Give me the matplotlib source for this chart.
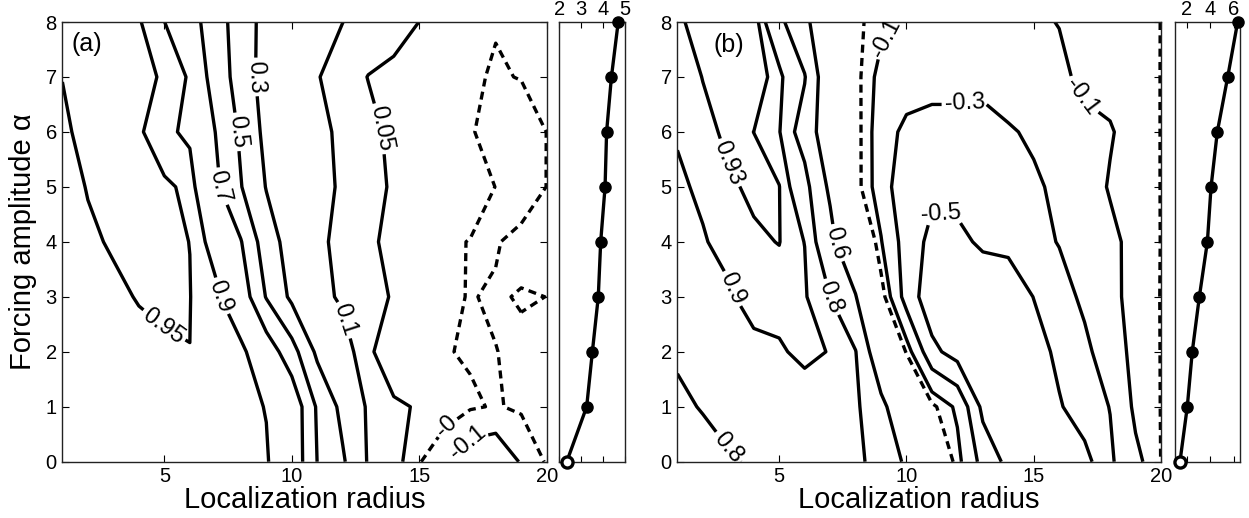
import numpy as np
import matplotlib
matplotlib.use("Agg")
import matplotlib.pyplot as plt

plt.rcParams['font.family'] = ['Liberation Sans', 'DejaVu Sans']
plt.rcParams['lines.dashed_pattern'] = [2.4, 1.6]

# ---------------- data ----------------
radius = np.arange(1, 21)          # localization radius (x grid)
alpha = np.arange(0, 9)            # forcing amplitude (y grid)

# panel (a) field, rows = alpha 0..8, cols = radius 1..20
a_row0 = [0.905, 0.908, 0.91, 0.912, 0.915, 0.918, 0.92, 0.915, 0.905, 0.85, 0.497, 0.323, 0.085, 0.075, 0.004, -0.048, -0.178, -0.2, -0.089, 0.01]
a_row1 = [0.915, 0.918, 0.92, 0.922, 0.925, 0.928, 0.925, 0.915, 0.898, 0.85, 0.475, 0.246, 0.08, 0.058, 0.0457, 0.03, 0.01, -0.0067, 0.0142, 0.02]
a_row2 = [0.92, 0.925, 0.93, 0.935, 0.946, 0.9498, 0.94, 0.922, 0.82, 0.579, 0.26, 0.13, 0.06, 0.015, 0.01, 0.004, -0.007, -0.001, 0.01, 0.01]
a_row3 = [0.925, 0.935, 0.94, 0.953, 0.955, 0.951, 0.92, 0.82, 0.4885, 0.26, 0.12, 0.0904, 0.068, 0.0455, 0.03, 0.01, -0.0025, 0.0058, -0.0039, 0.0003]
a_row4 = [0.93, 0.942, 0.9551, 0.958, 0.956, 0.9497, 0.867, 0.711, 0.39, 0.22, 0.111, 0.0857, 0.0602, 0.0347, 0.02, 0.01, -0.002, -0.005, 0.02, 0.02]
a_row5 = [0.93, 0.9525, 0.958, 0.958, 0.958, 0.94, 0.7425, 0.509, 0.292, 0.2, 0.12, 0.0914, 0.0675, 0.0435, 0.04, 0.035, 0.03, -0.001, -0.04, 0.001]
a_row6 = [0.94, 0.967, 0.965, 0.957, 0.918, 0.883, 0.699, 0.470, 0.246, 0.17, 0.1144, 0.0891, 0.0639, 0.0386, 0.03, 0.02, 0.01, -0.0456, -0.05, 0.001]
a_row7 = [0.951, 0.958, 0.96, 0.962, 0.945, 0.892, 0.605, 0.424, 0.21, 0.158, 0.103, 0.0758, 0.0486, 0.04, 0.03, 0.02, 0.012, -0.008, 0.0034, 0.01]
a_row8 = [0.97, 0.968, 0.962, 0.955, 0.9016, 0.773, 0.601, 0.392, 0.24, 0.19, 0.145, 0.1003, 0.0834, 0.0665, 0.0497, 0.045, 0.03, 0.005, 0.02, 0.04]

# panel (b) field
b_row0 = [0.74, 0.77, 0.79, 0.81, 0.82, 0.83, 0.83, 0.82, 0.766, 0.561, 0.247, -0.05, -0.368, -0.55, -0.65, -0.66, -0.57, -0.33, -0.141, 0.002]
b_row1 = [0.785, 0.8047, 0.83, 0.85, 0.865, 0.8767, 0.86, 0.83, 0.654, 0.42, 0.03, -0.13, -0.55, -0.62, -0.63, -0.52, -0.387, -0.295, -0.063, 0.002]
b_row2 = [0.81, 0.84, 0.86, 0.88, 0.895, 0.91, 0.898, 0.806, 0.431, -0.015, -0.45, -0.58, -0.65, -0.66, -0.6, -0.448, -0.346, -0.191, -0.05, 0.002]
b_row3 = [0.84, 0.87, 0.89, 0.927, 0.915, 0.91, 0.8, 0.616, 0.07, -0.388, -0.62, -0.66, -0.68, -0.65, -0.495, -0.38, -0.26, -0.15, -0.039, 0.002]
b_row4 = [0.86, 0.895, 0.92, 0.925, 0.931, 0.899, 0.675, 0.316, -0.09, -0.395, -0.55, -0.56, -0.46, -0.44, -0.36, -0.291, -0.2, -0.13, -0.0618, 0.002]
b_row5 = [0.89, 0.9104, 0.925, 0.9359, 0.931, 0.857, 0.56, 0.05, -0.18, -0.47, -0.46, -0.42, -0.42, -0.40, -0.33, -0.26, -0.16, -0.09, -0.05, 0.002]
b_row6 = [0.905, 0.92, 0.9367, 0.9299, 0.905, 0.73, 0.446, 0.05, -0.184, -0.36, -0.4, -0.38, -0.4, -0.32, -0.27, -0.2, -0.14, -0.11, -0.05, 0.002]
b_row7 = [0.91, 0.931, 0.945, 0.948, 0.915, 0.81, 0.42, 0.04, -0.15, -0.17, -0.2, -0.22, -0.22, -0.2, -0.17, -0.13, -0.0675, -0.06, -0.05, 0.002]
b_row8 = [0.925, 0.9417, 0.945, 0.95, 0.84, 0.655, 0.384, 0.03, -0.06, -0.1245, -0.15, -0.17, -0.17, -0.16, -0.12, -0.0959, -0.08, -0.07, -0.06, 0.002]

a_levels = [-0.1, 0.0, 0.05, 0.1, 0.3, 0.5, 0.7, 0.9, 0.95]
b_levels = [-0.5, -0.3, -0.1, 0.0, 0.6, 0.8, 0.9, 0.93]

# side panels: value per forcing amplitude
a_side = [2.34, 3.25, 3.51, 3.78, 3.89, 4.09, 4.16, 4.38, 4.69]
b_side = [1.42, 2.04, 2.46, 3.06, 3.74, 4.05, 4.58, 5.46, 6.30]

main_xticks = [5, 10, 15, 20]
main_yticks = [0, 1, 2, 3, 4, 5, 6, 7, 8]
a_side_ticks = [2, 3, 4, 5]
b_side_ticks = [2, 4, 6]

# ---------------- layout ----------------
W, H = 1249, 518
fig = plt.figure(figsize=(W / 100, H / 100), dpi=100)

def px_axes(x0, x1, y0=22, y1=461.7):
    return fig.add_axes([x0 / W, (H - y1) / H, (x1 - x0) / W, (y1 - y0) / H])

ax_a = px_axes(62.4, 546.7)
sd_a = px_axes(559.3, 625)
ax_b = px_axes(677.4, 1161)
sd_b = px_axes(1175, 1240)

LW = 2.4
FS_TICK = 14.5
FS_CLAB = 17
FS_LAB = 21


def fmt(v):
    if v == 0:
        return '-0'
    return f'{v:g}'


def draw_main(ax, Z, levels, label_pos, tag, tag_xy):
    X, Y = np.meshgrid(radius, alpha)
    for lev in levels:
        cs = ax.contour(X, Y, Z, levels=[lev], colors='k', linewidths=LW,
                        linestyles='dashed' if lev == 0 else 'solid')
        pos = label_pos.get(lev)
        if pos:
            ax.clabel(cs, manual=pos, inline=True, fmt=fmt, fontsize=FS_CLAB,
                      inline_spacing=3)
    ax.set_xlim(1, 20)
    ax.set_ylim(0, 8)
    ax.set_xticks(main_xticks)
    ax.set_yticks(main_yticks)
    ax.tick_params(direction='in', top=True, right=True, length=5, width=0.8,
                   labelsize=FS_TICK, pad=4)
    for s in ax.spines.values():
        s.set_linewidth(1.0)
        s.set_color('#222222')
    ax.set_xlabel('Localization radius', fontsize=FS_LAB, labelpad=0)
    ax.text(tag_xy[0], tag_xy[1], tag, fontsize=18, ha='left', va='center')


def draw_side(ax, vals, xlim, ticks):
    ax.plot(vals, alpha, '-', color='k', lw=LW, clip_on=False, zorder=3)
    ax.plot(vals[1:], alpha[1:], 'o', color='k', ms=8, clip_on=False, zorder=4)
    ax.plot(vals[:1], alpha[:1], 'o', mfc='white', mec='k', mew=2.4, ms=8,
            clip_on=False, zorder=4)
    ax.set_xlim(*xlim)
    ax.set_ylim(0, 8)
    ax.set_xticks(ticks)
    ax.set_yticks([])
    ax.tick_params(direction='in', top=True, bottom=True, labeltop=True,
                   labelbottom=False, length=4, width=0.8, labelsize=FS_TICK, pad=2)
    for s in ax.spines.values():
        s.set_linewidth(1.0)
        s.set_color('#222222')


Za = np.array([a_row0, a_row1, a_row2, a_row3, a_row4, a_row5, a_row6, a_row7, a_row8])
Zb = np.array([b_row0, b_row1, b_row2, b_row3, b_row4, b_row5, b_row6, b_row7, b_row8])

a_labels = {0.95: [(4.96, 2.46)], 0.9: [(7.12, 3.0)], 0.7: [(7.12, 5.0)],
            0.5: [(7.84, 6.0)], 0.3: [(8.5, 7.0)], 0.1: [(11.83, 2.55)],
            0.05: [(13.34, 6.04)], 0.0: [(16.02, 0.67)], -0.1: [(17.13, 0.27)]}
b_labels = {0.93: [(3.0, 5.43)], 0.9: [(3.0, 3.12)],
            0.8: [(3.0, 0.27), (7.06, 3.0)], 0.6: [(7.2, 3.97)],
            -0.1: [(9.54, 7.61), (17.0, 6.67)], -0.3: [(12.29, 6.52)],
            -0.5: [(11.3, 4.45)]}

draw_main(ax_a, Za, a_levels, a_labels, '(a)', (1.35, 7.6))
draw_main(ax_b, Zb, b_levels, b_labels, '(b)', (2.4, 7.58))
ax_a.set_ylabel('Forcing amplitude α', fontsize=FS_LAB, labelpad=6)

draw_side(sd_a, a_side, (2, 5), a_side_ticks)
draw_side(sd_b, b_side, (1.0, 6.5), b_side_ticks)

fig.savefig('out.png', dpi=100)
